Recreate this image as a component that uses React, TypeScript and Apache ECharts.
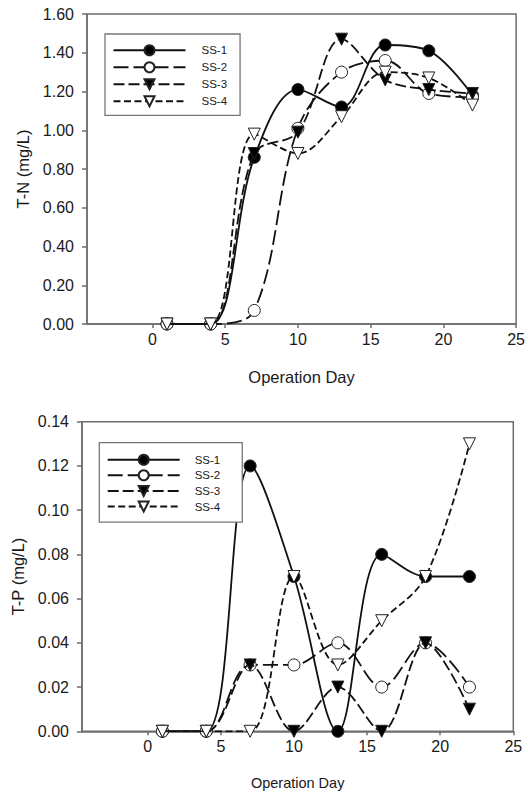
import React, { useEffect, useRef } from "react";
import * as echarts from "echarts";

const days = [1, 4, 7, 10, 13, 16, 19, 22];
const seriesNames = ["SS-1", "SS-2", "SS-3", "SS-4"];
const tnSS1 = [0, 0, 0.86, 1.21, 1.12, 1.44, 1.41, 1.18];
const tnSS2 = [0, 0, 0.07, 1.01, 1.3, 1.36, 1.19, 1.17];
const tnSS3 = [0, 0, 0.88, 0.99, 1.47, 1.26, 1.21, 1.19];
const tnSS4 = [0, 0, 0.98, 0.88, 1.07, 1.3, 1.27, 1.13];
const tpSS1 = [0, 0, 0.12, 0.07, 0, 0.08, 0.07, 0.07];
const tpSS2 = [0, 0, 0.03, 0.03, 0.04, 0.02, 0.04, 0.02];
const tpSS3 = [0, 0, 0.03, 0, 0.02, 0, 0.04, 0.01];
const tpSS4 = [0, 0, 0, 0.07, 0.03, 0.05, 0.07, 0.13];
const xTickValues = [0, 5, 10, 15, 20, 25];

const FONT = "Liberation Sans, Arial, sans-serif";
const DOWN_TRI = "path://M0,0 L10,0 L5,9 Z";

const styles = [
  { symbol: "circle", fill: "#000", dash: "solid" as any },
  { symbol: "circle", fill: "#fff", dash: [15, 5] },
  { symbol: DOWN_TRI, fill: "#000", dash: [11, 4] },
  { symbol: DOWN_TRI, fill: "#fff", dash: [7, 3.5] },
];

function makeSeries(values: number[][], gridIdx: number) {
  return values.map((vals, i) => ({
    name: seriesNames[i],
    type: "line",
    xAxisIndex: gridIdx,
    yAxisIndex: gridIdx,
    data: days.map((d, k) => [d, vals[k]]),
    smooth: 0.35,
    symbol: styles[i].symbol,
    symbolSize: 12,
    lineStyle: { color: "#111", width: 1.8, type: styles[i].dash },
    itemStyle: { color: styles[i].fill, borderColor: "#222", borderWidth: 1 },
    z: 2 + i,
  }));
}

const axisLineStyle = { color: "#6e6e6e", width: 1.5 };

function xAxis(gridIndex: number, nameSize: number) {
  return {
    type: "value",
    gridIndex,
    min: -4.5,
    max: 25,
    name: "Operation Day",
    nameLocation: "middle",
    nameGap: 44,
    nameTextStyle: { fontFamily: FONT, fontSize: nameSize, color: "#1a1a1a" },
    axisLine: { show: true, onZero: false, lineStyle: axisLineStyle },
    axisTick: {
      show: true,
      inside: false,
      length: 4,
      customValues: xTickValues,
      lineStyle: axisLineStyle,
    },
    axisLabel: {
      customValues: xTickValues,
      margin: 7,
      fontFamily: FONT,
      fontSize: 16,
      color: "#1a1a1a",
    },
    splitLine: { show: false },
  };
}

function yAxis(gridIndex: number, max: number, interval: number, name: string) {
  return {
    type: "value",
    gridIndex,
    min: 0,
    max,
    interval,
    name,
    nameLocation: "middle",
    nameGap: 55,
    nameTextStyle: { fontFamily: FONT, fontSize: 16.5, color: "#1a1a1a" },
    axisLine: { show: true, onZero: false, lineStyle: axisLineStyle },
    axisTick: { show: true, inside: false, length: 5, lineStyle: axisLineStyle },
    axisLabel: {
      margin: 13,
      fontFamily: FONT,
      fontSize: 16,
      color: "#1a1a1a",
      formatter: (v: number) => v.toFixed(2),
    },
    splitLine: { show: false },
  };
}

function legend(left: number, top: number, padding: number[], itemGap: number, textPad: number) {
  return {
    orient: "vertical",
    left,
    top,
    padding,
    itemWidth: 72,
    itemHeight: 12.5,
    itemGap,
    borderColor: "#777",
    borderWidth: 1.3,
    backgroundColor: "#fff",
    selectedMode: false,
    data: seriesNames,
    textStyle: {
      fontFamily: FONT,
      fontSize: 11.5,
      color: "#1a1a1a",
      padding: [0, 0, 0, textPad],
    },
  };
}

export default function App() {
  const ref = useRef<HTMLDivElement>(null);
  useEffect(() => {
    if (!ref.current) return;
    const chart = echarts.init(ref.current, undefined, { renderer: "svg" });
    chart.setOption({
      animation: false,
      backgroundColor: "#fff",
      grid: [
        {
          left: 87,
          top: 14,
          width: 431,
          height: 310,
          show: true,
          borderColor: "#6e6e6e",
          borderWidth: 1.5,
          backgroundColor: "transparent",
        },
        {
          left: 82,
          top: 421.7,
          width: 431.3,
          height: 309.6,
          show: true,
          borderColor: "#6e6e6e",
          borderWidth: 1.5,
          backgroundColor: "transparent",
        },
      ],
      xAxis: [xAxis(0, 16.5), xAxis(1, 14.5)],
      yAxis: [yAxis(0, 1.6, 0.2, "T-N (mg/L)"), yAxis(1, 0.14, 0.02, "T-P (mg/L)")],
      legend: [
        legend(105, 34, [10.2, 13, 8.2, 7.5], 5, 11),
        legend(99.3, 442.7, [11, 22, 9.7, 7.4], 3.6, 10),
      ],
      series: [
        ...makeSeries([tnSS1, tnSS2, tnSS3, tnSS4], 0),
        ...makeSeries([tpSS1, tpSS2, tpSS3, tpSS4], 1),
      ],
    });
    return () => chart.dispose();
  }, []);
  return (
    <div
      ref={ref}
      style={{ position: "fixed", left: 0, top: 0, width: 528, height: 794, background: "#fff" }}
    />
  );
}
